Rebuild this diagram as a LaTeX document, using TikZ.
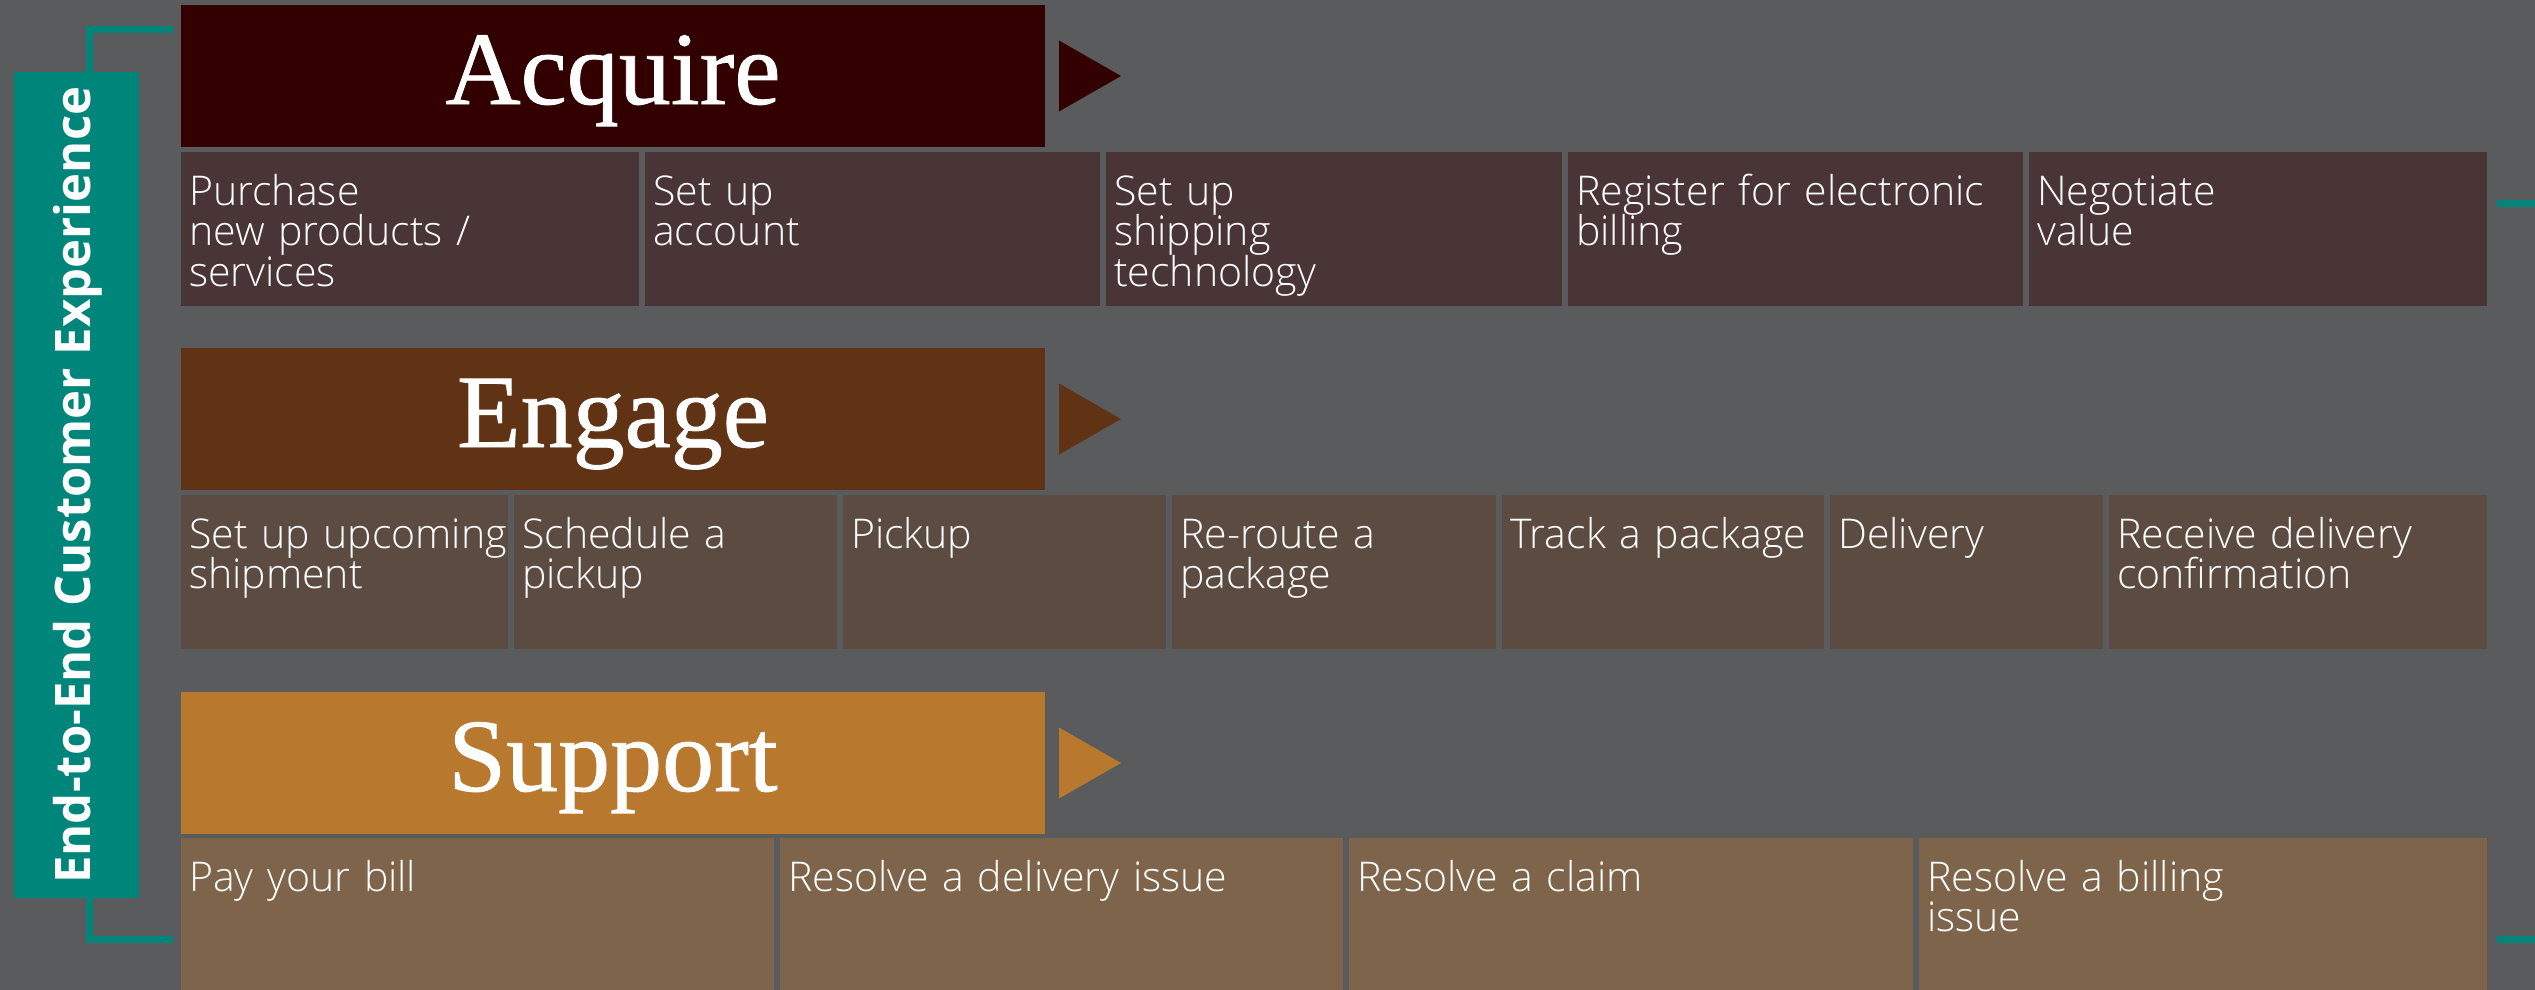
\documentclass[tikz,border=0pt]{standalone}
\usepackage{fontspec}
\setmainfont{Open Sans}
\IfFontExistsTF{Open Sans Light}
  {\newfontfamily\cellfont{Open Sans Light}}
  {\newfontfamily\cellfont{Open Sans}}
\newfontfamily\titlefont{Liberation Serif}[FakeBold=0.8]

\definecolor{canvas}{HTML}{5A5B5D}
\definecolor{acqhead}{HTML}{330000}
\definecolor{acqcell}{HTML}{4A3536}
\definecolor{enghead}{HTML}{603314}
\definecolor{engcell}{HTML}{5C4B40}
\definecolor{suphead}{HTML}{B8782E}
\definecolor{supcell}{HTML}{7D644A}
\definecolor{band}{HTML}{00857A}

% fixed baseline distance, even for lines with descenders
\newcommand\tightlines{\lineskiplimit=-1000pt\relax\lineskip=0pt\relax}

% one activity cell: name, left x, width, top y, colour, text
\newcommand\stagecell[6]{%
  \node[cellbox, fill=#5, minimum width=#3pt] (#1) at (#2,#4) {};
  \node[celltext] (#1t) at ([xshift=8pt,yshift=-53pt]#1.north west) {#6};
}

\begin{document}
\begin{tikzpicture}[x=1pt,y=-1pt,
  cellbox/.style={anchor=north west, inner sep=0pt, outer sep=0pt, minimum height=154pt},
  celltext/.style={anchor=base west, inner sep=0pt, text width=600pt, align=left,
    text=white, font=\cellfont\fontsize{41}{40.5}\selectfont\tightlines},
  headbox/.style={anchor=north west, inner sep=0pt, outer sep=0pt,
    minimum width=864pt, minimum height=142pt},
  headtitle/.style={anchor=base, inner sep=0pt, text=white,
    font=\titlefont\fontsize{104}{104}\selectfont},
  bracket/.style={draw=band, line width=7pt}]

\useasboundingbox (0,0) rectangle (2535,990);
\fill[canvas] (0,0) rectangle (2535,990);

% side band
\node[fill=band, anchor=north west, inner sep=0pt, minimum width=125pt, minimum height=826pt] (side) at (14,72) {};
\node[rotate=90, text=white, inner sep=0pt, font=\bfseries\fontsize{49}{49}\selectfont] (sidelabel) at ([xshift=1pt]side.center) {End-to-End Customer Experience};
\coordinate (brtop) at (173,29.5);
\coordinate (brbot) at (173,939.5);
\draw[bracket] ([xshift=12.5pt]side.north) |- (brtop);
\draw[bracket] ([xshift=12.5pt]side.south) |- (brbot);
\coordinate (rtA) at (2497,203.5);
\coordinate (rtB) at (2535,203.5);
\coordinate (rbA) at (2497,939.5);
\coordinate (rbB) at (2535,939.5);
\draw[bracket] (rtA) -- (rtB);
\draw[bracket] (rbA) -- (rbB);

% Acquire
\node[headbox, fill=acqhead] (hA) at (181,5) {};
\node[headtitle] (tA) at ([yshift=-99pt]hA.north) {Acquire};
\fill[acqhead] ([xshift=14pt,yshift=35.5pt]hA.east) -- ([xshift=76pt]hA.east) -- ([xshift=14pt,yshift=-35.5pt]hA.east) -- cycle;
\stagecell{a1}{181}{458}{152}{acqcell}{Purchase\\new products /\\services}
\stagecell{a2}{645}{455}{152}{acqcell}{Set up\\account}
\stagecell{a3}{1106}{456}{152}{acqcell}{Set up\\shipping\\technology}
\stagecell{a4}{1568}{455}{152}{acqcell}{Register for electronic\\billing}
\stagecell{a5}{2029}{458}{152}{acqcell}{Negotiate\\value}

% Engage
\node[headbox, fill=enghead] (hE) at (181,348) {};
\node[headtitle] (tE) at ([yshift=-99pt]hE.north) {Engage};
\fill[enghead] ([xshift=14pt,yshift=35.5pt]hE.east) -- ([xshift=76pt]hE.east) -- ([xshift=14pt,yshift=-35.5pt]hE.east) -- cycle;
\stagecell{e1}{181}{327}{495}{engcell}{Set up upcoming\\shipment}
\stagecell{e2}{514}{323}{495}{engcell}{Schedule a\\pickup}
\stagecell{e3}{843}{323}{495}{engcell}{Pickup}
\stagecell{e4}{1172}{324}{495}{engcell}{Re-route a\\package}
\stagecell{e5}{1502}{322}{495}{engcell}{Track a package}
\stagecell{e6}{1830}{273}{495}{engcell}{Delivery}
\stagecell{e7}{2109}{378}{495}{engcell}{Receive delivery\\confirmation}

% Support
\node[headbox, fill=suphead] (hS) at (181,692) {};
\node[headtitle] (tS) at ([yshift=-99pt]hS.north) {Support};
\fill[suphead] ([xshift=14pt,yshift=35.5pt]hS.east) -- ([xshift=76pt]hS.east) -- ([xshift=14pt,yshift=-35.5pt]hS.east) -- cycle;
\stagecell{s1}{181}{593}{838}{supcell}{Pay your bill}
\stagecell{s2}{780}{563}{838}{supcell}{Resolve a delivery issue}
\stagecell{s3}{1349}{564}{838}{supcell}{Resolve a claim}
\stagecell{s4}{1919}{568}{838}{supcell}{Resolve a billing\\issue}

\end{tikzpicture}
\end{document}
